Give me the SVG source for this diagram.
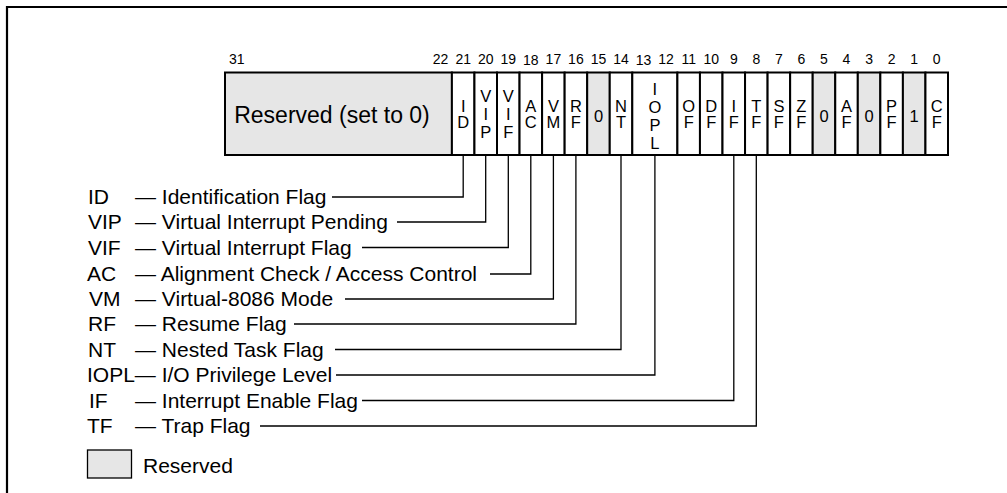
<svg xmlns="http://www.w3.org/2000/svg" width="1007" height="493" viewBox="0 0 1007 493">
<style>
text{font-family:"Liberation Sans",Arial,Helvetica,sans-serif;fill:#000}
.lbl{font-size:21px}
.num{font-size:14px;text-anchor:middle}
.cell{font-size:16.5px;text-anchor:middle}
.big{font-size:23px;text-anchor:middle}
.c{fill:#fff;stroke:#000;stroke-width:2}
.g{fill:#e6e6e6;stroke:#000;stroke-width:2}
.conn{fill:none;stroke:#000;stroke-width:1.3}
</style>
<rect width="1007" height="493" fill="#fff"/>
<g id="frame"><polyline points="7,493 7,7 1007,7" fill="none" stroke="#000" stroke-width="2.2"/></g>

<g id="bit-numbers">
<text class="num" x="229" y="64" style="text-anchor:start">31</text>
<text class="num" x="440.6" y="64">22</text>
<text class="num" x="463.2" y="64">21</text>
<text class="num" x="485.7" y="64">20</text>
<text class="num" x="508.3" y="64">19</text>
<text class="num" x="530.8" y="65.3">18</text>
<text class="num" x="553.4" y="64">17</text>
<text class="num" x="575.9" y="64">16</text>
<text class="num" x="598.5" y="64">15</text>
<text class="num" x="621" y="64">14</text>
<text class="num" x="643.6" y="65.3">13</text>
<text class="num" x="666.1" y="64">12</text>
<text class="num" x="688.7" y="64">11</text>
<text class="num" x="711.2" y="64">10</text>
<text class="num" x="733.8" y="64">9</text>
<text class="num" x="756.3" y="64">8</text>
<text class="num" x="778.9" y="64">7</text>
<text class="num" x="801.4" y="64">6</text>
<text class="num" x="824" y="64">5</text>
<text class="num" x="846.5" y="64">4</text>
<text class="num" x="869.1" y="64">3</text>
<text class="num" x="891.6" y="64">2</text>
<text class="num" x="914.2" y="64">1</text>
<text class="num" x="936.7" y="64">0</text>
</g>

<g id="register">
<g id="cell-reserved"><rect class="g" x="225" y="72.5" width="226.9" height="82.5"/><text class="big" x="332" y="123">Reserved (set to 0)</text></g>
<g id="cell-ID"><rect class="c" x="451.9" y="72.5" width="22.55" height="82.5"/><text class="cell" x="463.2" y="111.5">I</text><text class="cell" x="463.2" y="128">D</text></g>
<g id="cell-VIP"><rect class="c" x="474.45" y="72.5" width="22.55" height="82.5"/><text class="cell" x="485.7" y="102">V</text><text class="cell" x="485.7" y="120">I</text><text class="cell" x="485.7" y="138">P</text></g>
<g id="cell-VIF"><rect class="c" x="497" y="72.5" width="22.55" height="82.5"/><text class="cell" x="508.3" y="102">V</text><text class="cell" x="508.3" y="120">I</text><text class="cell" x="508.3" y="138">F</text></g>
<g id="cell-AC"><rect class="c" x="519.55" y="72.5" width="22.55" height="82.5"/><text class="cell" x="530.8" y="111.5">A</text><text class="cell" x="530.8" y="128">C</text></g>
<g id="cell-VM"><rect class="c" x="542.1" y="72.5" width="22.55" height="82.5"/><text class="cell" x="553.4" y="111.5">V</text><text class="cell" x="553.4" y="128">M</text></g>
<g id="cell-RF"><rect class="c" x="564.65" y="72.5" width="22.55" height="82.5"/><text class="cell" x="575.9" y="111.5">R</text><text class="cell" x="575.9" y="128">F</text></g>
<g id="cell-bit15"><rect class="g" x="587.2" y="72.5" width="22.55" height="82.5"/><text class="cell" x="598.5" y="122">0</text></g>
<g id="cell-NT"><rect class="c" x="609.75" y="72.5" width="22.55" height="82.5"/><text class="cell" x="621" y="111.5">N</text><text class="cell" x="621" y="128">T</text></g>
<g id="cell-IOPL"><rect class="c" x="632.3" y="72.5" width="45.1" height="82.5"/><text class="cell" x="654.9" y="94.5">I</text><text class="cell" x="654.9" y="112.5">O</text><text class="cell" x="654.9" y="130.5">P</text><text class="cell" x="654.9" y="148.5">L</text></g>
<g id="cell-OF"><rect class="c" x="677.4" y="72.5" width="22.55" height="82.5"/><text class="cell" x="688.7" y="111.5">O</text><text class="cell" x="688.7" y="128">F</text></g>
<g id="cell-DF"><rect class="c" x="699.95" y="72.5" width="22.55" height="82.5"/><text class="cell" x="711.2" y="111.5">D</text><text class="cell" x="711.2" y="128">F</text></g>
<g id="cell-IF"><rect class="c" x="722.5" y="72.5" width="22.55" height="82.5"/><text class="cell" x="733.8" y="111.5">I</text><text class="cell" x="733.8" y="128">F</text></g>
<g id="cell-TF"><rect class="c" x="745.05" y="72.5" width="22.55" height="82.5"/><text class="cell" x="756.3" y="111.5">T</text><text class="cell" x="756.3" y="128">F</text></g>
<g id="cell-SF"><rect class="c" x="767.6" y="72.5" width="22.55" height="82.5"/><text class="cell" x="778.9" y="111.5">S</text><text class="cell" x="778.9" y="128">F</text></g>
<g id="cell-ZF"><rect class="c" x="790.15" y="72.5" width="22.55" height="82.5"/><text class="cell" x="801.4" y="111.5">Z</text><text class="cell" x="801.4" y="128">F</text></g>
<g id="cell-bit5"><rect class="g" x="812.7" y="72.5" width="22.55" height="82.5"/><text class="cell" x="824" y="122">0</text></g>
<g id="cell-AF"><rect class="c" x="835.25" y="72.5" width="22.55" height="82.5"/><text class="cell" x="846.5" y="111.5">A</text><text class="cell" x="846.5" y="128">F</text></g>
<g id="cell-bit3"><rect class="g" x="857.8" y="72.5" width="22.55" height="82.5"/><text class="cell" x="869.1" y="122">0</text></g>
<g id="cell-PF"><rect class="c" x="880.35" y="72.5" width="22.55" height="82.5"/><text class="cell" x="891.6" y="111.5">P</text><text class="cell" x="891.6" y="128">F</text></g>
<g id="cell-bit1"><rect class="g" x="902.9" y="72.5" width="22.55" height="82.5"/><text class="cell" x="914.2" y="122">1</text></g>
<g id="cell-CF"><rect class="c" x="925.45" y="72.5" width="22.55" height="82.5"/><text class="cell" x="936.7" y="111.5">C</text><text class="cell" x="936.7" y="128">F</text></g>
</g>

<g id="connectors">
<polyline class="conn" points="332,197 463.2,197 463.2,155"/>
<polyline class="conn" points="397,222 485.7,222 485.7,155"/>
<polyline class="conn" points="362,247.5 508.3,247.5 508.3,155"/>
<polyline class="conn" points="490,274 530.8,274 530.8,155"/>
<polyline class="conn" points="345,299 553.4,299 553.4,155"/>
<polyline class="conn" points="294,324 575.9,324 575.9,155"/>
<polyline class="conn" points="335,349.5 621,349.5 621,155"/>
<polyline class="conn" points="336,375 654.9,375 654.9,155"/>
<polyline class="conn" points="362,400.5 733.8,400.5 733.8,155"/>
<polyline class="conn" points="260,426 756.3,426 756.3,155"/>
</g>

<g id="labels">
<g id="label-ID"><text class="lbl" x="88" y="204">ID</text><text class="lbl" x="135" y="204">— Identification Flag</text></g>
<g id="label-VIP"><text class="lbl" x="88" y="229">VIP</text><text class="lbl" x="135" y="229">— Virtual Interrupt Pending</text></g>
<g id="label-VIF"><text class="lbl" x="88" y="254.5">VIF</text><text class="lbl" x="135" y="254.5">— Virtual Interrupt Flag</text></g>
<g id="label-AC"><text class="lbl" x="87" y="281">AC</text><text class="lbl" x="135" y="281">— Alignment Check / Access Control</text></g>
<g id="label-VM"><text class="lbl" x="89" y="306">VM</text><text class="lbl" x="135" y="306">— Virtual-8086 Mode</text></g>
<g id="label-RF"><text class="lbl" x="88" y="331">RF</text><text class="lbl" x="135" y="331">— Resume Flag</text></g>
<g id="label-NT"><text class="lbl" x="88" y="356.5">NT</text><text class="lbl" x="135" y="356.5">— Nested Task Flag</text></g>
<g id="label-IOPL"><text class="lbl" x="87" y="382">IOPL— I/O Privilege Level</text></g>
<g id="label-IF"><text class="lbl" x="89" y="407.5">IF</text><text class="lbl" x="135" y="407.5">— Interrupt Enable Flag</text></g>
<g id="label-TF"><text class="lbl" x="87" y="433">TF</text><text class="lbl" x="135" y="433">— Trap Flag</text></g>
</g>

<g id="legend">
<rect x="87.5" y="450" width="44" height="28" fill="#e6e6e6" stroke="#000" stroke-width="1.3"/>
<text class="lbl" x="143" y="472.5">Reserved</text>
</g>
</svg>
